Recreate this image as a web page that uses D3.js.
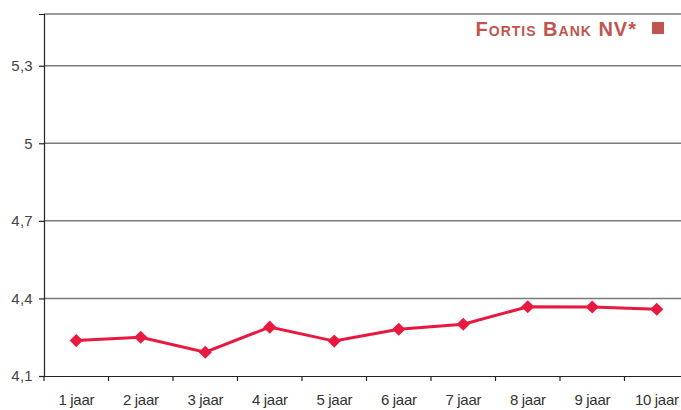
<!DOCTYPE html>
<html>
<head>
<meta charset="utf-8">
<script src="https://cdn.jsdelivr.net/npm/d3@7"></script>
<style>
  body { margin: 0; background: #fff; }
  text { font-family: "Liberation Sans", Arial, sans-serif; }
</style>
</head>
<body>
<div id="wrapper"></div>
<script>
const categories = ["1 jaar", "2 jaar", "3 jaar", "4 jaar", "5 jaar", "6 jaar", "7 jaar", "8 jaar", "9 jaar", "10 jaar"];
const fortisValues = [4.237, 4.250, 4.192, 4.289, 4.235, 4.281, 4.300, 4.368, 4.367, 4.358];
const yTicks = [4.1, 4.4, 4.7, 5, 5.3];
const seriesName = "Fortis Bank NV*";

function drawChart() {
	const width = 681;
	const height = 410;
	const margin = {top: 14, right: -8, bottom: 34, left: 44};

	const svg = d3.select("#wrapper").append("svg")
		.attr("width", width)
		.attr("height", height);

	const xScale = d3.scaleBand()
		.domain(categories)
		.range([margin.left, width - margin.right]);

	const yScale = d3.scaleLinear()
		.domain([4.1, 5.5])
		.range([height - margin.bottom, margin.top]);

	// gridlines
	svg.append("g")
		.selectAll("line")
		.data(yTicks.slice(1).concat([5.5]))
		.join("line")
		.attr("x1", margin.left)
		.attr("x2", width)
		.attr("y1", d => yScale(d))
		.attr("y2", d => yScale(d))
		.attr("stroke", "#7a7a7a")
		.attr("stroke-width", 1.5);

	const yAxis = d3.axisLeft(yScale)
		.tickValues(yTicks)
		.tickFormat(d => String(d).replace(".", ","))
		.tickSize(5)
		.tickPadding(6);

	const gy = svg.append("g")
		.attr("transform", `translate(${margin.left},0)`)
		.call(yAxis);
	gy.select(".domain").attr("stroke", "#222").attr("stroke-width", 1.2);
	gy.selectAll(".tick line").attr("stroke", "#222").attr("stroke-width", 1.2);
	gy.selectAll(".tick text")
		.attr("fill", "#444")
		.style("font-size", "15px")
		.style("letter-spacing", "0.3px");

	const xAxis = d3.axisBottom(xScale)
		.tickSize(5)
		.tickPadding(13)
		.tickSizeOuter(0);

	const gx = svg.append("g")
		.attr("transform", `translate(0,${height - margin.bottom})`)
		.call(xAxis);
	gx.select(".domain").attr("stroke", "#222").attr("stroke-width", 1.2);
	// ticks sit on band boundaries
	gx.selectAll(".tick line")
		.attr("x1", -xScale.bandwidth() / 2)
		.attr("x2", -xScale.bandwidth() / 2)
		.attr("stroke", "#222")
		.attr("stroke-width", 1.2);
	gx.selectAll(".tick text")
		.attr("fill", "#333")
		.style("font-family", "'Liberation Sans Narrow', 'Liberation Sans', sans-serif")
		.style("font-size", "15px")
		.style("letter-spacing", "-0.3px");

	const xCenter = d => xScale(d) + xScale.bandwidth() / 2;

	const line = d3.line()
		.x((d, i) => xCenter(categories[i]))
		.y(d => yScale(d));

	svg.append("path")
		.datum(fortisValues)
		.attr("d", line)
		.attr("fill", "none")
		.attr("stroke", "#e8193f")
		.attr("stroke-width", 3);

	svg.selectAll(".marker")
		.data(fortisValues)
		.join("path")
		.attr("class", "marker")
		.attr("d", d3.symbol(d3.symbolDiamond2, 110))
		.attr("transform", (d, i) => `translate(${xCenter(categories[i])},${yScale(d)})`)
		.attr("fill", "#e8193f");

	// legend
	const legend = svg.append("g");
	legend.append("text")
		.attr("x", 637)
		.attr("y", 36)
		.attr("text-anchor", "end")
		.attr("fill", "#c0554f")
		.style("font-size", "20px")
		.style("font-weight", "bold")
		.style("letter-spacing", "1px")
		.style("font-variant", "small-caps")
		.text(seriesName);
	legend.append("rect")
		.attr("x", 652)
		.attr("y", 22)
		.attr("width", 12)
		.attr("height", 12)
		.attr("fill", "#c0554f");
}
drawChart();
</script>
</body>
</html>
